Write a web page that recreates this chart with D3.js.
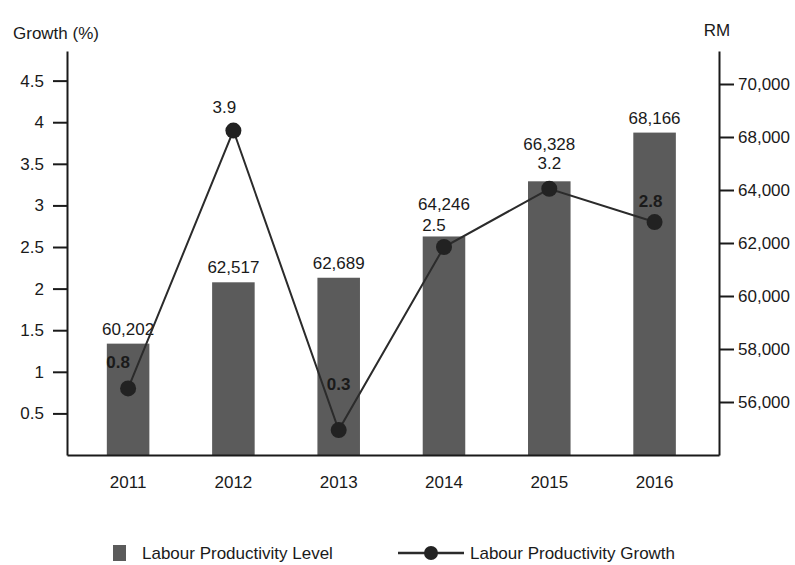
<!DOCTYPE html>
<html>
<head>
<meta charset="utf-8">
<script src="https://cdn.jsdelivr.net/npm/d3@7/dist/d3.min.js"></script>
<style>
  body { margin: 0; background: #fff; }
  svg text { font-family: "Liberation Sans", Arial, sans-serif; fill: #1a1a1a; }
</style>
</head>
<body>
<svg id="chart" width="795" height="565"></svg>
<script>
// data
var years = ["2011", "2012", "2013", "2014", "2015", "2016"];
var productivityLevel = [60202, 62517, 62689, 64246, 66328, 68166];   // RM, bars
var productivityGrowth = [0.8, 3.9, 0.3, 2.5, 3.2, 2.8];              // %, line
var leftTickValues = [0.5, 1, 1.5, 2, 2.5, 3, 3.5, 4, 4.5];
var leftTickLabels = ["0.5", "1", "1.5", "2", "2.5", "3", "3.5", "4", "4.5"];
var rightTickValues = [70000, 68000, 66000, 64000, 62000, 60000, 58000];
// the original labels skip 66,000, so they are printed as they appear
var rightTickLabels = ["70,000", "68,000", "64,000", "62,000", "60,000", "58,000", "56,000"];

var svg = d3.select("#chart");

var plotLeft = 67, plotRight = 719, plotTop = 51, plotBottom = 455;
var fontSize = "17px";

var x = d3.scaleBand()
  .domain(years)
  .range([plotLeft, plotRight])
  .paddingInner(0.596)
  .paddingOuter(0.394)
  .align(0.48);

var yLeft = d3.scaleLinear().domain([0, 4.856]).range([plotBottom, plotTop]);
var yRight = d3.scaleLinear().domain([56000, 71245]).range([plotBottom, plotTop]);

var fmt = d3.format(",");

// bars
svg.append("g").selectAll("rect")
  .data(years)
  .join("rect")
  .attr("x", function (d) { return x(d); })
  .attr("y", function (d, i) { return yRight(productivityLevel[i]); })
  .attr("width", x.bandwidth())
  .attr("height", function (d, i) { return plotBottom - yRight(productivityLevel[i]); })
  .attr("fill", "#5b5b5b");

// bar labels (2014 and 2015 sit higher to clear the growth labels)
var barLabelLift = [9, 9, 9, 26, 31, 9];

svg.append("g").selectAll("text")
  .data(years)
  .join("text")
  .attr("x", function (d) { return x(d) + x.bandwidth() / 2; })
  .attr("y", function (d, i) { return yRight(productivityLevel[i]) - barLabelLift[i]; })
  .attr("text-anchor", "middle")
  .style("font-size", fontSize)
  .text(function (d, i) { return fmt(productivityLevel[i]); });

// axes
function styleAxis(g) {
  g.select(".domain").attr("stroke", "#1a1a1a").attr("stroke-width", 2);
  g.selectAll(".tick line").attr("stroke", "#1a1a1a").attr("stroke-width", 2);
  g.selectAll(".tick text").style("font-size", fontSize).attr("fill", "#1a1a1a");
}

svg.append("g")
  .attr("transform", "translate(" + plotLeft + ",0)")
  .call(d3.axisLeft(yLeft)
    .tickValues(leftTickValues)
    .tickFormat(function (d, i) { return leftTickLabels[i]; })
    .tickSize(14).tickSizeOuter(0).tickPadding(9))
  .call(styleAxis);

svg.append("g")
  .attr("transform", "translate(" + plotRight + ",0)")
  .call(d3.axisRight(yRight)
    .tickValues(rightTickValues)
    .tickFormat(function (d, i) { return rightTickLabels[i]; })
    .tickSize(15).tickSizeOuter(0).tickPadding(4))
  .call(styleAxis);

svg.append("g")
  .attr("transform", "translate(0," + plotBottom + ")")
  .call(d3.axisBottom(x).tickSize(0).tickSizeOuter(0).tickPadding(21))
  .call(styleAxis);

// axis titles
svg.append("text").attr("x", 13).attr("y", 39)
  .style("font-size", fontSize).text("Growth (%)");
svg.append("text").attr("x", 717).attr("y", 36)
  .attr("text-anchor", "middle")
  .style("font-size", fontSize).text("RM");

// growth line
var line = d3.line()
  .x(function (d, i) { return x(years[i]) + x.bandwidth() / 2; })
  .y(function (d) { return yLeft(d); });

svg.append("path")
  .datum(productivityGrowth)
  .attr("fill", "none")
  .attr("stroke", "#2b2b2b")
  .attr("stroke-width", 2)
  .attr("d", line);

svg.append("g").selectAll("circle")
  .data(productivityGrowth)
  .join("circle")
  .attr("cx", function (d, i) { return x(years[i]) + x.bandwidth() / 2; })
  .attr("cy", function (d) { return yLeft(d); })
  .attr("r", 8)
  .attr("fill", "#222");

// growth labels, nudged the way the original places them
var growthLabelShift = [[-10, -20], [-9, -18], [0, -40], [-10, -16], [0, -20], [-4, -15]];
var boldGrowth = [true, false, true, false, false, true];

svg.append("g").selectAll("text")
  .data(productivityGrowth)
  .join("text")
  .attr("x", function (d, i) { return x(years[i]) + x.bandwidth() / 2 + growthLabelShift[i][0]; })
  .attr("y", function (d, i) { return yLeft(d) + growthLabelShift[i][1]; })
  .attr("text-anchor", "middle")
  .style("font-size", fontSize)
  .style("font-weight", function (d, i) { return boldGrowth[i] ? "bold" : "normal"; })
  .text(function (d) { return d; });

// legend
var legend = svg.append("g");
legend.append("rect")
  .attr("x", 113).attr("y", 545).attr("width", 13).attr("height", 16)
  .attr("fill", "#5b5b5b");
legend.append("text")
  .attr("x", 142).attr("y", 559)
  .style("font-size", "17px")
  .text("Labour Productivity Level");
legend.append("line")
  .attr("x1", 398).attr("x2", 464).attr("y1", 553).attr("y2", 553)
  .attr("stroke", "#2b2b2b").attr("stroke-width", 2.5);
legend.append("circle")
  .attr("cx", 431).attr("cy", 553).attr("r", 7).attr("fill", "#222");
legend.append("text")
  .attr("x", 470).attr("y", 559)
  .style("font-size", "17px")
  .text("Labour Productivity Growth");
</script>
</body>
</html>
